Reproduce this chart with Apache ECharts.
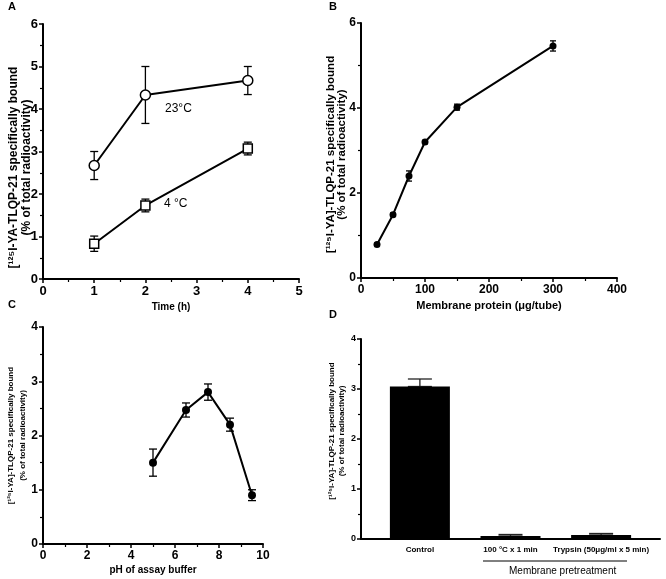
<!DOCTYPE html>
<html>
<head>
<meta charset="utf-8">
<script src="https://cdn.jsdelivr.net/npm/echarts@6/dist/echarts.min.js"></script>
<style>
  html, body { margin: 0; padding: 0; background: #fff; }
  #main { width: 666px; height: 579px; }
</style>
</head>
<body>
<div id="main"></div>
<script>
// panel A - time course
var timeH = [1, 2, 4]
var bound23 = [2.67, 4.33, 4.67]
var err23 = [0.33, 0.67, 0.33]
var bound4 = [0.83, 1.73, 3.07]
var err4 = [0.18, 0.15, 0.15]

// panel B - membrane protein
var protein = [25, 50, 75, 100, 150, 300]
var boundProtein = [0.79, 1.49, 2.40, 3.20, 4.02, 5.46]
var errProtein = [0.03, 0.04, 0.12, 0.04, 0.07, 0.12]

// panel C - pH
var pH = [5, 6.5, 7.5, 8.5, 9.5]
var boundPH = [1.50, 2.47, 2.80, 2.20, 0.90]
var errPH = [0.25, 0.13, 0.15, 0.12, 0.10]

// panel D - pretreatment
var treatments = ['Control', '100 °C x 1 min', 'Trypsin (50μg/ml x 5 min)']
var treatPos = [0.65, 1.65, 2.65]
var boundTreat = [3.05, 0.06, 0.08]
var errTreat = [0.15, 0.03, 0.03]

var FONT = 'Liberation Sans'

function pairs(xs, ys) {
  return xs.map(function (x, i) { return [x, ys[i]] })
}
function errPairs(xs, ys, es, upOnly) {
  return xs.map(function (x, i) {
    return [x, upOnly ? ys[i] : ys[i] - es[i], ys[i] + es[i]]
  })
}
function errRender(cap, color) {
  return function (params, api) {
    var x = api.value(0)
    var lo = api.coord([x, api.value(1)])
    var hi = api.coord([x, api.value(2)])
    var st = { stroke: color || '#000', lineWidth: 1.3 }
    return {
      type: 'group',
      children: [
        { type: 'line', shape: { x1: lo[0], y1: lo[1], x2: hi[0], y2: hi[1] }, style: st },
        { type: 'line', shape: { x1: hi[0] - cap, y1: hi[1], x2: hi[0] + cap, y2: hi[1] }, style: st },
        { type: 'line', shape: { x1: lo[0] - cap, y1: lo[1], x2: lo[0] + cap, y2: lo[1] }, style: st }
      ]
    }
  }
}

function axisX(grid, min, max, interval, split, fs, name, nameGap, nameFs) {
  return {
    type: 'value', gridIndex: grid, min: min, max: max, interval: interval,
    name: name, nameLocation: 'middle', nameGap: nameGap, nameMoveOverlap: false,
    nameTextStyle: { fontFamily: FONT, fontWeight: 'bold', fontSize: nameFs, color: '#000' },
    axisLine: { lineStyle: { color: '#000', width: 2 } },
    axisTick: { length: 4, lineStyle: { color: '#000', width: 1.5 } },
    minorTick: { show: true, splitNumber: split, length: 3, lineStyle: { color: '#000', width: 1.2 } },
    axisLabel: { fontFamily: FONT, fontWeight: 'bold', fontSize: fs, color: '#000', margin: 6 },
    splitLine: { show: false }
  }
}
// pad shifts the rotated name along the axis (positive = down)
function axisY(grid, min, max, interval, split, fs, name, nameGap, nameFs, lh, pad) {
  return {
    type: 'value', gridIndex: grid, min: min, max: max, interval: interval,
    name: name, nameLocation: 'middle', nameGap: nameGap, nameMoveOverlap: false,
    nameTextStyle: {
      fontFamily: FONT, fontWeight: 'bold', fontSize: nameFs, color: '#000', lineHeight: lh,
      padding: pad > 0 ? [0, pad * 2, 0, 0] : [0, 0, 0, -pad * 2]
    },
    axisLine: { show: true, lineStyle: { color: '#000', width: 2 } },
    axisTick: { show: true, length: 4, lineStyle: { color: '#000', width: 1.5 } },
    minorTick: { show: true, splitNumber: split, length: 3, lineStyle: { color: '#000', width: 1.2 } },
    axisLabel: { fontFamily: FONT, fontWeight: 'bold', fontSize: fs, color: '#000', margin: 5 },
    splitLine: { show: false }
  }
}

var nameA = '[¹²⁵I-YA-TLQP-21 specifically bound\n(% of total radioactivity)'
var nameB = '[¹²⁵I-YA]-TLQP-21 specifically bound\n(% of total radioactivity)'

var myChart = echarts.init(document.getElementById('main'))

var option = {
  animation: false,
  backgroundColor: '#fff',
  grid: [
    { left: 43, top: 24, width: 256, height: 255 },
    { left: 361, top: 23, width: 256, height: 255 },
    { left: 43, top: 327, width: 220, height: 217 },
    { left: 361, top: 339, width: 299, height: 200 }
  ],
  xAxis: [
    axisX(0, 0, 5, 1, 2, 13, 'Time (h)', 23, 10),
    axisX(1, 0, 400, 100, 2, 12, 'Membrane protein (μg/tube)', 22, 11),
    axisX(2, 0, 10, 2, 2, 12, 'pH of assay buffer', 21, 10),
    {
      type: 'value', gridIndex: 3, min: 0, max: 3.3,
      axisLine: { lineStyle: { color: '#000', width: 2 } },
      axisTick: { show: false },
      splitLine: { show: false },
      axisLabel: {
        customValues: treatPos, fontFamily: FONT, fontWeight: 'bold', fontSize: 8, color: '#000', margin: 7,
        formatter: function (v) { return treatments[treatPos.indexOf(v)] || '' }
      }
    }
  ],
  yAxis: [
    axisY(0, 0, 6, 1, 2, 13, nameA, 10, 12, 13, 16),
    axisY(1, 0, 6, 2, 2, 12, nameB, 14, 11.5, 11, 4),
    axisY(2, 0, 4, 1, 2, 12, nameB, 14, 8, 12, 0),
    axisY(3, 0, 4, 1, 2, 9, nameB, 14, 8, 10, -8)
  ],
  series: [
    // A
    { type: 'custom', xAxisIndex: 0, yAxisIndex: 0, z: 1, renderItem: errRender(4), data: errPairs(timeH, bound23, err23) },
    { type: 'custom', xAxisIndex: 0, yAxisIndex: 0, z: 1, renderItem: errRender(4), data: errPairs(timeH, bound4, err4) },
    {
      type: 'line', xAxisIndex: 0, yAxisIndex: 0, z: 3, data: pairs(timeH, bound23),
      symbol: 'circle', symbolSize: 10, lineStyle: { color: '#000', width: 2 },
      itemStyle: { color: '#fff', borderColor: '#000', borderWidth: 1.5 }
    },
    {
      type: 'line', xAxisIndex: 0, yAxisIndex: 0, z: 3, data: pairs(timeH, bound4),
      symbol: 'rect', symbolSize: 9, lineStyle: { color: '#000', width: 2 },
      itemStyle: { color: '#fff', borderColor: '#000', borderWidth: 1.5 }
    },
    // B
    { type: 'custom', xAxisIndex: 1, yAxisIndex: 1, z: 1, renderItem: errRender(3), data: errPairs(protein, boundProtein, errProtein) },
    {
      type: 'line', xAxisIndex: 1, yAxisIndex: 1, z: 3, data: pairs(protein, boundProtein),
      symbol: 'circle', symbolSize: 7, lineStyle: { color: '#000', width: 2 },
      itemStyle: { color: '#000' }
    },
    // C
    { type: 'custom', xAxisIndex: 2, yAxisIndex: 2, z: 1, renderItem: errRender(4), data: errPairs(pH, boundPH, errPH) },
    {
      type: 'line', xAxisIndex: 2, yAxisIndex: 2, z: 3, data: pairs(pH, boundPH),
      symbol: 'circle', symbolSize: 8, lineStyle: { color: '#000', width: 2 },
      itemStyle: { color: '#000' }
    },
    // D
    {
      type: 'bar', xAxisIndex: 3, yAxisIndex: 3, z: 2, barWidth: 60, data: pairs(treatPos, boundTreat),
      itemStyle: { color: '#000' }
    },
    {
      type: 'custom', xAxisIndex: 3, yAxisIndex: 3, z: 1, renderItem: errRender(12, '#222'),
      data: errPairs(treatPos, boundTreat, errTreat, true)
    }
  ],
  graphic: [
    { type: 'text', left: 8, top: 1, style: { text: 'A', font: 'bold 11px Liberation Sans', fill: '#000' } },
    { type: 'text', left: 329, top: 1, style: { text: 'B', font: 'bold 11px Liberation Sans', fill: '#000' } },
    { type: 'text', left: 8, top: 299, style: { text: 'C', font: 'bold 11px Liberation Sans', fill: '#000' } },
    { type: 'text', left: 329, top: 309, style: { text: 'D', font: 'bold 11px Liberation Sans', fill: '#000' } },
    { type: 'text', left: 165, top: 103, style: { text: '23°C', font: '12px Liberation Sans', fill: '#000' } },
    { type: 'text', left: 164, top: 198, style: { text: '4 °C', font: '12px Liberation Sans', fill: '#000' } },
    { type: 'line', shape: { x1: 483, y1: 561, x2: 627, y2: 561 }, style: { stroke: '#000', lineWidth: 1 } },
    { type: 'text', left: 509, top: 566, style: { text: 'Membrane pretreatment', font: '10px Liberation Sans', fill: '#000' } }
  ]
}

myChart.setOption(option)
</script>
</body>
</html>
